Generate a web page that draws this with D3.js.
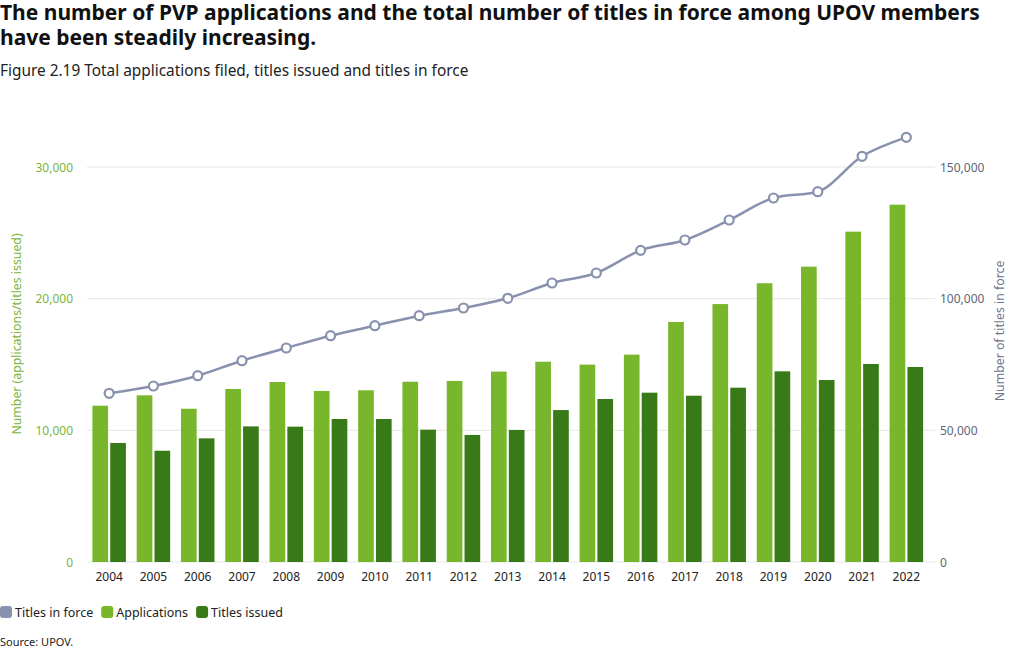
<!DOCTYPE html>
<html>
<head>
<meta charset="utf-8">
<script src="https://cdn.jsdelivr.net/npm/d3@7"></script>
<style>
  html, body { margin: 0; padding: 0; background: #fff; }
  svg { display: block; font-family: "Noto Sans", "Open Sans", sans-serif; }
</style>
</head>
<body>
<svg id="chart" width="1020" height="650"></svg>
<script>
const years = ["2004","2005","2006","2007","2008","2009","2010","2011","2012","2013","2014","2015","2016","2017","2018","2019","2020","2021","2022"];
const applications = [11870, 12660, 11640, 13140, 13670, 12990, 13040, 13690, 13750, 14460, 15210, 14990, 15750, 18230, 19590, 21170, 22430, 25090, 27140];
const titlesIssued = [9040, 8450, 9390, 10300, 10280, 10860, 10860, 10050, 9650, 10030, 11540, 12380, 12860, 12630, 13240, 14480, 13820, 15040, 14810];
const titlesInForce = [64060, 66840, 70750, 76450, 81270, 85940, 89740, 93540, 96460, 100130, 105950, 109750, 118350, 122280, 129870, 138230, 140620, 154060, 161270];
const leftTicks = [0, 10000, 20000, 30000];
const rightTicks = [0, 50000, 100000, 150000];

const colors = { apps: "#78b62b", issued: "#387a17", force: "#8891ad" };

const svg = d3.select("#chart");

// Titles
svg.append("text").attr("x", 0).attr("y", 20)
  .attr("font-size", 21).attr("font-weight", 700).attr("fill", "#111")
  .text("The number of PVP applications and the total number of titles in force among UPOV members");
svg.append("text").attr("x", 0).attr("y", 45)
  .attr("font-size", 21).attr("font-weight", 700).attr("fill", "#111")
  .text("have been steadily increasing.");
svg.append("text").attr("x", 0).attr("y", 76)
  .attr("font-size", 15.4).attr("fill", "#222")
  .text("Figure 2.19 Total applications filed, titles issued and titles in force");

const plotLeft = 87, plotRight = 935, plotTop = 167, plotBottom = 562;

const x = d3.scaleBand().domain(years).range([plotLeft, 928.5]).paddingInner(0).paddingOuter(0);
const groupPad = 5.4;
const x1 = d3.scaleBand().domain(["apps", "issued"]).range([groupPad, x.bandwidth() - groupPad]).paddingInner(0.12);
const yL = d3.scaleLinear().domain([0, 30000]).range([plotBottom, plotTop]);
const yR = d3.scaleLinear().domain([0, 150000]).range([plotBottom, plotTop]);

// gridlines
svg.append("g").selectAll("line").data(leftTicks).join("line")
  .attr("x1", plotLeft).attr("x2", plotRight)
  .attr("y1", d => yL(d)).attr("y2", d => yL(d))
  .attr("stroke", "#e6e6e6").attr("stroke-width", 1);

// left axis
const fmt = d3.format(",");
const leftAxis = d3.axisLeft(yL).tickValues(leftTicks).tickFormat(fmt).tickSize(0).tickPadding(0);
const gL = svg.append("g").attr("transform", `translate(73,0)`).call(leftAxis);
gL.select(".domain").remove();
gL.selectAll("text").attr("font-size", 12).attr("fill", "#7ab53a").attr("font-family", "Noto Sans, sans-serif").attr("dy", "0.35em");

const rightAxis = d3.axisRight(yR).tickValues(rightTicks).tickFormat(fmt).tickSize(0).tickPadding(0);
const gR = svg.append("g").attr("transform", `translate(940,0)`).call(rightAxis);
gR.select(".domain").remove();
gR.selectAll("text").attr("font-size", 12).attr("fill", "#5f6578").attr("font-family", "Noto Sans, sans-serif").attr("dy", "0.35em");

// axis titles
svg.append("text").attr("transform", `translate(21,334) rotate(-90)`)
  .attr("text-anchor", "middle").attr("font-size", 12.3).attr("fill", "#7ab53a")
  .text("Number (applications/titles issued)");
svg.append("text").attr("transform", `translate(1004,331) rotate(-90)`)
  .attr("text-anchor", "middle").attr("font-size", 12.3).attr("fill", "#6f768c")
  .text("Number of titles in force");

// bottom axis
const bottomAxis = d3.axisBottom(x).tickSize(0).tickPadding(0);
const gB = svg.append("g").attr("transform", `translate(0,${plotBottom})`).call(bottomAxis);
gB.select(".domain").remove();
gB.selectAll("text").attr("font-size", 12).attr("fill", "#222").attr("font-family", "Noto Sans, sans-serif").attr("y", 10).attr("dy", "0.71em");

// bars
const groups = svg.append("g").selectAll("g").data(years).join("g")
  .attr("transform", d => `translate(${x(d)},0)`);
groups.append("rect")
  .attr("x", x1("apps")).attr("width", x1.bandwidth())
  .attr("y", (d, i) => yL(applications[i])).attr("height", (d, i) => yL(0) - yL(applications[i]))
  .attr("fill", colors.apps);
groups.append("rect")
  .attr("x", x1("issued")).attr("width", x1.bandwidth())
  .attr("y", (d, i) => yL(titlesIssued[i])).attr("height", (d, i) => yL(0) - yL(titlesIssued[i]))
  .attr("fill", colors.issued);

// line
const cx = d => x(d) + x.bandwidth() / 2;
const line = d3.line().x((d, i) => cx(years[i])).y(d => yR(d)).curve(d3.curveMonotoneX);
svg.append("path").datum(titlesInForce).attr("d", line)
  .attr("fill", "none").attr("stroke", colors.force).attr("stroke-width", 2.5);
svg.append("g").selectAll("circle").data(titlesInForce).join("circle")
  .attr("cx", (d, i) => cx(years[i])).attr("cy", d => yR(d)).attr("r", 4.5)
  .attr("fill", "#fff").attr("stroke", colors.force).attr("stroke-width", 2.2);

// legend
const legendItems = [
  { label: "Titles in force", color: colors.force },
  { label: "Applications", color: colors.apps },
  { label: "Titles issued", color: colors.issued }
];
const lg = svg.append("g").attr("transform", "translate(0,606)");
let lx = 0;
legendItems.forEach(it => {
  lg.append("rect").attr("x", lx).attr("y", 0).attr("width", 12).attr("height", 12).attr("rx", 3).attr("fill", it.color);
  const t = lg.append("text").attr("x", lx + 15).attr("y", 11).attr("font-size", 12.5).attr("fill", "#222").text(it.label);
  lx += 15 + t.node().getComputedTextLength() + 8;
});

svg.append("text").attr("x", 0).attr("y", 646).attr("font-size", 11).attr("fill", "#222").text("Source: UPOV.");
</script>
</body>
</html>
